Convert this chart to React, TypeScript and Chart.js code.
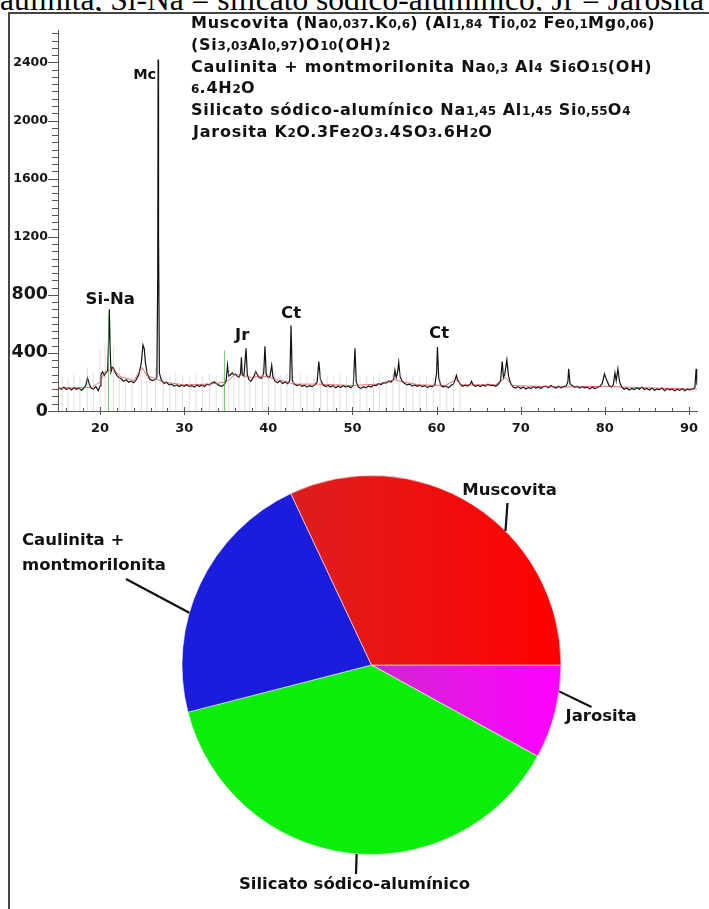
import { useEffect, useRef } from "react";
import { Chart, registerables } from "chart.js";

Chart.register(...registerables);

const SANS = "'DejaVu Sans', Verdana, sans-serif";

// Diffractogram: 2θ (degrees) and intensity (counts)
const scanTheta: number[] = [
  15.1, 15.4, 15.7, 16.0, 16.3, 16.6, 16.9, 17.2, 17.5, 17.8, 18.1, 18.3, 18.5, 18.7, 18.9, 19.2, 19.5, 19.8,
  20.0, 20.1, 20.3, 20.5, 20.7, 20.9, 21.0, 21.1, 21.2, 21.3, 21.45, 21.6, 21.8, 22.0, 22.2, 22.5, 22.8, 23.1,
  23.4, 23.7, 24.0, 24.3, 24.6, 24.9, 25.1, 25.25, 25.4, 25.6, 25.9, 26.2, 26.5, 26.75, 26.85, 26.9, 26.95, 27.05,
  27.3, 27.6, 27.9, 28.2, 28.5, 28.8, 29.1, 29.4, 29.7, 30.0, 30.3, 30.6, 30.9, 31.2, 31.5, 31.8, 32.1, 32.4,
  32.7, 33.0, 33.3, 33.6, 33.9, 34.2, 34.5, 34.8, 35.0, 35.15, 35.3, 35.5, 35.7, 35.9, 36.1, 36.3, 36.5, 36.7,
  36.8, 36.9, 37.1, 37.35, 37.5, 37.7, 37.9, 38.1, 38.3, 38.5, 38.7, 38.9, 39.2, 39.45, 39.6, 39.75, 40.0, 40.2,
  40.4, 40.55, 40.8, 41.1, 41.4, 41.7, 42.0, 42.3, 42.55, 42.7, 42.85, 43.1, 43.4, 43.7, 44.0, 44.3, 44.6, 44.9,
  45.2, 45.5, 45.8, 46.0, 46.2, 46.5, 46.8, 47.1, 47.4, 47.7, 48.0, 48.3, 48.6, 48.9, 49.2, 49.5, 49.8, 50.1,
  50.3, 50.45, 50.7, 51.0, 51.3, 51.6, 51.9, 52.2, 52.5, 52.8, 53.1, 53.4, 53.7, 54.0, 54.3, 54.6, 54.9, 55.05,
  55.2, 55.35, 55.5, 55.65, 55.9, 56.2, 56.5, 56.8, 57.1, 57.4, 57.7, 58.0, 58.3, 58.6, 58.9, 59.2, 59.5, 59.8,
  60.0, 60.1, 60.25, 60.5, 60.8, 61.1, 61.4, 61.7, 62.0, 62.2, 62.35, 62.5, 62.8, 63.1, 63.4, 63.7, 64.0, 64.15,
  64.3, 64.6, 64.9, 65.2, 65.5, 65.8, 66.1, 66.4, 66.7, 67.0, 67.3, 67.6, 67.8, 67.95, 68.1, 68.35, 68.55, 68.8,
  69.1, 69.4, 69.7, 70.0, 70.3, 70.6, 70.9, 71.2, 71.5, 71.8, 72.1, 72.4, 72.7, 73.0, 73.3, 73.6, 73.9, 74.2,
  74.5, 74.8, 75.1, 75.4, 75.6, 75.7, 75.85, 76.1, 76.4, 76.7, 77.0, 77.3, 77.6, 77.9, 78.2, 78.5, 78.8, 79.1,
  79.4, 79.7, 79.95, 80.2, 80.5, 80.8, 81.0, 81.2, 81.35, 81.55, 81.75, 82.0, 82.3, 82.6, 82.9, 83.2, 83.5, 83.8,
  84.1, 84.4, 84.7, 85.0, 85.3, 85.6, 85.9, 86.2, 86.5, 86.8, 87.1, 87.4, 87.7, 88.0, 88.3, 88.6, 88.9, 89.2,
  89.5, 89.8, 90.1, 90.4, 90.7, 90.85, 90.95,
];
const scanCounts: number[] = [
  158, 150, 165, 148, 160, 145, 162, 150, 158, 142, 160, 175, 228, 190, 160, 150, 168, 140,
  175, 250, 270, 245, 262, 280, 460, 700, 420, 270, 300, 296, 265, 245, 232, 222, 205, 215,
  198, 205, 195, 215, 250, 330, 455, 430, 330, 260, 220, 210, 215, 230, 900, 2420, 1200, 260,
  210, 190, 198, 180, 185, 172, 180, 168, 178, 170, 182, 168, 175, 165, 178, 170, 180, 168,
  185, 178, 195, 200, 185, 175, 170, 185, 215, 315, 240, 250, 262, 248, 255, 240, 232, 260,
  370, 255, 240, 432, 250, 215, 205, 220, 240, 272, 250, 230, 225, 260, 445, 250, 230, 240,
  315, 235, 205, 195, 210, 190, 200, 188, 210, 588, 210, 185, 175, 182, 170, 178, 165, 175,
  168, 178, 200, 340, 215, 180, 168, 176, 165, 175, 160, 172, 162, 175, 165, 172, 160, 175,
  432, 200, 165, 155, 168, 160, 172, 165, 178, 175, 188, 182, 195, 192, 205, 200, 220, 280,
  230, 260, 335, 240, 205, 190, 180, 185, 172, 180, 170, 178, 168, 175, 162, 172, 168, 180,
  260, 440, 230, 175, 165, 172, 160, 175, 185, 215, 245, 215, 185, 170, 178, 172, 185, 205,
  182, 170, 178, 168, 180, 172, 185, 175, 178, 170, 182, 205, 340, 230, 250, 352, 240, 190,
  165, 158, 168, 155, 165, 152, 162, 155, 168, 158, 165, 155, 168, 172, 160, 175, 165, 158,
  170, 160, 168, 172, 200, 290, 190, 175, 165, 170, 158, 168, 160, 165, 152, 165, 155, 162,
  170, 190, 256, 215, 175, 165, 180, 262, 210, 290, 200, 165, 150, 158, 145, 155, 148, 160,
  150, 165, 148, 155, 145, 158, 142, 152, 148, 158, 140, 155, 145, 152, 140, 150, 142, 155,
  140, 150, 145, 152, 160, 290, 180,
];

// Calculated profile
const fitTheta: number[] = [15, 17, 19, 20, 20.5, 21.5, 22.5, 24, 25, 25.6, 26.5, 27.5, 30, 33, 35, 36, 37, 38, 39, 40, 41, 42, 43, 46, 50, 53, 55, 56, 58, 61, 62.3, 63, 67, 68.2, 69, 75, 80, 82, 91];
const fitCounts: number[] = [158, 160, 162, 200, 265, 290, 235, 210, 300, 240, 225, 200, 180, 185, 200, 250, 245, 230, 240, 235, 215, 205, 185, 185, 175, 185, 215, 200, 180, 175, 215, 180, 180, 230, 175, 165, 170, 165, 150];

// Reference pattern lines
const refTheta: number[] = [15.5, 16.2, 16.9, 17.6, 18.5, 19.2, 20.0, 20.6, 21.6, 22.3, 23.0, 23.8, 24.9, 25.6, 26.6, 27.5, 28.3, 29.0, 29.8, 30.6, 31.4, 32.2, 33.0, 33.8, 34.6, 35.3, 35.9, 36.5, 37.2, 37.8, 38.5, 39.3, 40.0, 40.8, 41.5, 42.2, 43.0, 43.8, 44.6, 45.4, 46.2, 47.0, 47.8, 48.5, 49.3, 50.1, 50.9, 51.7, 52.5, 53.2, 54.0, 54.8, 55.6, 56.4, 57.2, 58.0, 58.8, 59.6, 60.4, 61.2, 62.0, 62.8];
const refCounts: number[] = [240, 230, 250, 235, 300, 260, 420, 460, 440, 300, 260, 250, 320, 280, 300, 250, 240, 260, 245, 235, 250, 240, 255, 245, 260, 300, 280, 290, 270, 260, 280, 300, 260, 270, 250, 260, 240, 250, 235, 245, 260, 240, 235, 250, 240, 260, 235, 245, 240, 250, 245, 260, 270, 250, 240, 245, 235, 250, 240, 230, 245, 235];
const phaseLineTheta: number[] = [21.0, 34.8];
const phaseLineCounts: number[] = [650, 415];

const yTickValues: number[] = [0, 400, 800, 1200, 1600, 2000, 2400];
const xTickValues: number[] = [20, 30, 40, 50, 60, 70, 80, 90];
const yMinorStep = 50;
const xMinorStep = 2;

const peakTags: string[] = ["Mc", "Si-Na", "Jr", "Ct", "Ct"];
const peakTagTheta: number[] = [25.3, 21.2, 36.9, 42.7, 60.3];
const peakTagCounts: number[] = [2310, 765, 520, 670, 535];

// Mineral phases (%)
const phaseNames: string[] = ["Jarosita", "Silicato sódico-alumínico", "Caulinita + montmorilonita", "Muscovita"];
const phaseShares: number[] = [8, 38, 22, 32];

type Callout = { angle: number; end: [number, number]; lines: string[]; at: [number, number]; align: CanvasTextAlign };
const callouts: Callout[] = [
  { angle: 8, end: [220, 42], lines: ["Jarosita"], at: [194, 52], align: "left" },
  { angle: 94.5, end: [-15.5, 209], lines: ["Silicato sódico-alumínico"], at: [-17, 220], align: "center" },
  { angle: -164, end: [-245.5, -86], lines: ["Caulinita +", "montmorilonita"], at: [-349.5, -124], align: "left" },
  { angle: -45, end: [136, -162], lines: ["Muscovita"], at: [138, -174], align: "center" },
];

function sticks(xs: number[], ys: number[]) {
  const pts: { x: number; y: number | null }[] = [];
  xs.forEach((x, i) => {
    pts.push({ x, y: 0 }, { x, y: ys[i] }, { x, y: null });
  });
  return pts;
}

const axisMarks = {
  id: "axisMarks",
  afterDraw(chart: any) {
    const { ctx, scales } = chart;
    const x = scales.x;
    const y = scales.y;
    ctx.save();
    ctx.strokeStyle = "#555";
    ctx.lineWidth = 1;
    for (let v = 0; v <= 2600; v += yMinorStep) {
      const py = Math.round(y.getPixelForValue(v)) + 0.5;
      const len = v % 400 === 0 ? 10 : 6;
      ctx.beginPath();
      ctx.moveTo(x.left - len, py);
      ctx.lineTo(x.left, py);
      ctx.stroke();
    }
    for (let v = 16; v <= 90; v += xMinorStep) {
      const px = Math.round(x.getPixelForValue(v)) + 0.5;
      const major = v % 10 === 0;
      ctx.beginPath();
      ctx.moveTo(px, y.bottom - (major ? 4 : 3));
      ctx.lineTo(px, y.bottom + (major ? 4 : 0));
      ctx.stroke();
    }
    ctx.restore();
  },
};

const peakText = {
  id: "peakText",
  afterDatasetsDraw(chart: any) {
    const { ctx, scales } = chart;
    ctx.save();
    ctx.fillStyle = "#111";
    ctx.textAlign = "center";
    ctx.textBaseline = "middle";
    peakTags.forEach((t, i) => {
      ctx.font = `bold ${t === "Mc" ? 14.5 : 16.5}px ${SANS}`;
      ctx.fillText(t, scales.x.getPixelForValue(peakTagTheta[i]), scales.y.getPixelForValue(peakTagCounts[i]));
    });
    ctx.restore();
  },
};

const calloutPlugin = {
  id: "callouts",
  afterDatasetsDraw(chart: any) {
    const arc = chart.getDatasetMeta(0).data[0];
    if (!arc) return;
    const { x: cx, y: cy, outerRadius: r } = arc.getProps(["x", "y", "outerRadius"], true);
    const ctx = chart.ctx;
    ctx.save();
    ctx.strokeStyle = "#111";
    ctx.lineWidth = 2.2;
    ctx.fillStyle = "#111";
    ctx.font = `bold 16.5px ${SANS}`;
    ctx.textBaseline = "middle";
    callouts.forEach((c) => {
      const a = (c.angle * Math.PI) / 180;
      ctx.beginPath();
      ctx.moveTo(cx + r * Math.cos(a), cy + r * Math.sin(a));
      ctx.lineTo(cx + c.end[0], cy + c.end[1]);
      ctx.stroke();
      ctx.textAlign = c.align;
      c.lines.forEach((line, k) => {
        ctx.fillText(line, cx + c.at[0], cy + c.at[1] + k * 25);
      });
    });
    ctx.restore();
  },
};

function sliceFill(context: any) {
  const chart = context.chart;
  const area = chart.chartArea;
  const i = context.dataIndex;
  if (!area) return "#f00";
  const g = chart.ctx.createLinearGradient(area.left, 0, area.right, 0);
  if (i === 0) {
    g.addColorStop(0, "#b82cb8");
    g.addColorStop(0.55, "#d424d4");
    g.addColorStop(1, "#ff00ff");
    return g;
  }
  if (i === 1) return "#0aee0a";
  if (i === 2) return "#1c1cdc";
  g.addColorStop(0, "#cc2828");
  g.addColorStop(0.5, "#e81616");
  g.addColorStop(1, "#ff0000");
  return g;
}

const Sub = ({ children }: { children: any }) => (
  <span style={{ fontSize: 12, fontWeight: "bold", letterSpacing: 0.2 }}>{children}</span>
);

export default function App() {
  const xrdRef = useRef<HTMLCanvasElement | null>(null);
  const pieRef = useRef<HTMLCanvasElement | null>(null);

  useEffect(() => {
    const xrd = new Chart(xrdRef.current as HTMLCanvasElement, {
      type: "line",
      data: {
        datasets: [
          {
            data: sticks(refTheta, refCounts),
            borderColor: "rgba(200,178,178,0.45)",
            borderWidth: 1,
            pointRadius: 0,
            spanGaps: false,
          },
          {
            data: sticks(phaseLineTheta, phaseLineCounts),
            borderColor: "rgba(70,180,70,0.75)",
            borderWidth: 1,
            pointRadius: 0,
            spanGaps: false,
          },
          {
            data: fitTheta.map((x, i) => ({ x, y: fitCounts[i] })),
            borderColor: "rgba(220,50,50,0.7)",
            borderWidth: 1,
            pointRadius: 0,
          },
          {
            data: scanTheta.map((x, i) => ({ x, y: scanCounts[i] })),
            borderColor: "#121212",
            borderWidth: 1.2,
            pointRadius: 0,
          },
        ],
      } as any,
      options: {
        animation: false,
        responsive: false,
        events: [],
        layout: { padding: { top: 15, right: 11.6, left: 0, bottom: 0 } },
        plugins: { legend: { display: false }, tooltip: { enabled: false } },
        scales: {
          x: {
            type: "linear",
            min: 15,
            max: 91,
            afterFit: (s: any) => {
              s.height = 34;
            },
            afterBuildTicks: (s: any) => {
              s.ticks = xTickValues.map((value) => ({ value }));
            },
            grid: { display: false, drawTicks: false },
            border: { display: true, color: "#555", width: 1 },
            ticks: {
              autoSkip: false,
              maxRotation: 0,
              padding: 10,
              color: "#161616",
              font: { family: SANS, size: 13, weight: "bold" },
              callback: (v: number) => String(v),
            },
          },
          y: {
            min: 0,
            max: 2620,
            afterFit: (s: any) => {
              s.width = 49;
            },
            afterBuildTicks: (s: any) => {
              s.ticks = yTickValues.map((value) => ({ value }));
            },
            grid: { display: false, drawTicks: false },
            border: { display: true, color: "#555", width: 1 },
            ticks: {
              padding: 10,
              color: "#161616",
              callback: (v: number) => String(v),
              font: (c: any) => ({
                family: SANS,
                weight: "bold",
                size: c.tick && c.tick.value <= 800 ? 17.5 : 12.5,
              }),
            },
          },
        },
      } as any,
      plugins: [axisMarks, peakText],
    });

    const pie = new Chart(pieRef.current as HTMLCanvasElement, {
      type: "pie",
      data: {
        labels: phaseNames,
        datasets: [
          {
            data: phaseShares,
            backgroundColor: sliceFill,
            borderColor: "rgba(255,255,255,0.55)",
            borderWidth: 1,
          },
        ],
      },
      options: {
        animation: false,
        responsive: false,
        events: [],
        rotation: 90,
        layout: { padding: { left: 172.5, right: 147.5, top: 30, bottom: 54 } },
        plugins: { legend: { display: false }, tooltip: { enabled: false } },
      } as any,
      plugins: [calloutPlugin],
    });

    return () => {
      xrd.destroy();
      pie.destroy();
    };
  }, []);

  const lineStyle = { height: 21.8, whiteSpace: "nowrap" as const };

  return (
    <div style={{ position: "absolute", left: 0, top: 0, width: 709, height: 909, overflow: "hidden", background: "#fff" }}>
      <div style={{ position: "absolute", left: 0, top: 0, width: 709, height: 11, overflow: "hidden" }}>
        <div
          style={{
            position: "absolute",
            left: 0,
            top: -16.5,
            fontFamily: "'Liberation Serif', 'Times New Roman', serif",
            fontSize: 31.5,
            lineHeight: "31px",
            whiteSpace: "nowrap",
            color: "#000",
          }}
        >
          aulinita, Si-Na = silicato sódico-alumínico; Jr = Jarosita
        </div>
      </div>
      <div
        style={{
          position: "absolute",
          left: 8,
          top: 12,
          width: 720,
          height: 920,
          borderLeft: "2px solid #444",
          borderTop: "2px solid #444",
        }}
      />
      <canvas
        ref={xrdRef}
        width={700}
        height={432}
        style={{ position: "absolute", left: 9, top: 13, width: 700, height: 432 }}
      />
      <div
        style={{
          position: "absolute",
          left: 191,
          top: 12,
          fontFamily: SANS,
          fontWeight: "bold",
          fontSize: 16,
          letterSpacing: 0.75,
          lineHeight: "21.8px",
          color: "#111",
        }}
      >
        <div style={lineStyle}>
          Muscovita (Na<Sub>0,037</Sub>.K<Sub>0,6</Sub>) (Al<Sub>1,84</Sub> Ti<Sub>0,02</Sub> Fe<Sub>0,1</Sub>Mg<Sub>0,06</Sub>)
        </div>
        <div style={lineStyle}>
          (Si<Sub>3,03</Sub>Al<Sub>0,97</Sub>)O<Sub>10</Sub>(OH)<Sub>2</Sub>
        </div>
        <div style={lineStyle}>
          Caulinita + montmorilonita Na<Sub>0,3</Sub> Al<Sub>4</Sub> Si<Sub>6</Sub>O<Sub>15</Sub>(OH)
        </div>
        <div style={lineStyle}>
          <Sub>6</Sub>.4H<Sub>2</Sub>O
        </div>
        <div style={lineStyle}>
          Silicato sódico-alumínico Na<Sub>1,45</Sub> Al<Sub>1,45</Sub> Si<Sub>0,55</Sub>O<Sub>4</Sub>
        </div>
        <div style={{ ...lineStyle, paddingLeft: 2 }}>
          Jarosita K<Sub>2</Sub>O.3Fe<Sub>2</Sub>O<Sub>3</Sub>.4SO<Sub>3</Sub>.6H<Sub>2</Sub>O
        </div>
      </div>
      <canvas
        ref={pieRef}
        width={700}
        height={464}
        style={{ position: "absolute", left: 9, top: 445, width: 700, height: 464 }}
      />
    </div>
  );
}
